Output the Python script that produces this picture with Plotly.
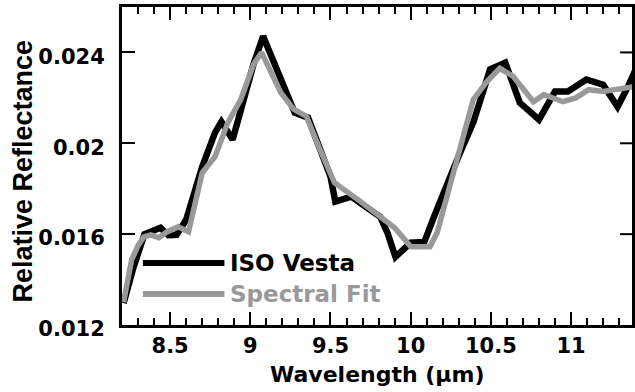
import plotly.graph_objects as go

# ISO Vesta spectrum (wavelength in micrometres, relative reflectance)
vesta_wl = [8.21, 8.27, 8.34, 8.38, 8.44, 8.49, 8.54, 8.60, 8.65, 8.70, 8.78, 8.82,
            8.89, 8.95, 9.02, 9.08, 9.15, 9.235, 9.277, 9.36, 9.43, 9.50, 9.53, 9.63,
            9.72, 9.81, 9.855, 9.905, 10.0, 10.085, 10.15, 10.227, 10.30, 10.39, 10.44,
            10.495, 10.59, 10.68, 10.80, 10.90, 10.98, 11.095, 11.20, 11.29, 11.355, 11.40]
vesta_refl = [0.01296, 0.01450, 0.01600, 0.01610, 0.01628, 0.01595, 0.01597, 0.01663,
              0.01780, 0.01897, 0.02047, 0.02095, 0.02016, 0.02170, 0.02348, 0.02471,
              0.02350, 0.02207, 0.02135, 0.02113, 0.01985, 0.01853, 0.01743, 0.01765,
              0.01720, 0.01676, 0.01606, 0.01500, 0.01562, 0.01566, 0.01685, 0.01826,
              0.01945, 0.02091, 0.02208, 0.02325, 0.02355, 0.02179, 0.02104, 0.02228,
              0.02228, 0.02281, 0.02258, 0.02161, 0.02250, 0.02320]

# Spectral fit
fit_wl = [8.21, 8.26, 8.30, 8.336, 8.38, 8.43, 8.48, 8.55, 8.615, 8.70, 8.78, 8.86,
          8.94, 9.02, 9.07, 9.19, 9.27, 9.35, 9.43, 9.525, 9.69, 9.81, 9.90, 10.0,
          10.12, 10.165, 10.29, 10.39, 10.475, 10.556, 10.64, 10.766, 10.83, 10.95,
          11.03, 11.11, 11.20, 11.28, 11.36, 11.40]
fit_refl = [0.01300, 0.01487, 0.01550, 0.01588, 0.01597, 0.01584, 0.01610, 0.01632,
            0.01610, 0.01870, 0.01941, 0.02091, 0.02192, 0.02347, 0.02400, 0.02223,
            0.02150, 0.02118, 0.01980, 0.01826, 0.01742, 0.01676, 0.01628, 0.01545,
            0.01545, 0.01606, 0.01928, 0.02192, 0.02272, 0.02330, 0.02294, 0.02183,
            0.02214, 0.02183, 0.02200, 0.02236, 0.02228, 0.02236, 0.02250, 0.02250]

series_names = ["ISO Vesta", "Spectral Fit"]
series_colors = ["#000000", "#999999"]

x_range = [8.2, 11.38]
y_range = [0.012, 0.026]
y_ticks = [0.012, 0.016, 0.02, 0.024]

W, H = 635, 392
ML, MR, MT, MB = 122, 0, 7, 67
PW, PH = W - ML - MR, H - MT - MB


def px(x):
    return (x - ML) / PW


def py(y):
    return (H - MB - y) / PH


fig = go.Figure()
fig.add_trace(go.Scatter(x=vesta_wl, y=vesta_refl, mode="lines", name=series_names[0],
                         line=dict(color=series_colors[0], width=6.5),
                         showlegend=False))
fig.add_trace(go.Scatter(x=fit_wl, y=fit_refl, mode="lines", name=series_names[1],
                         line=dict(color=series_colors[1], width=5.5),
                         showlegend=False))

tick_font = dict(family="DejaVu Sans", size=21, color="black", weight="bold")

fig.update_xaxes(range=x_range, showgrid=False, zeroline=False,
                 showline=True, linecolor="black", linewidth=3, mirror="ticks",
                 ticks="inside", ticklen=13, tickwidth=2, tickcolor="black",
                 tick0=8.5, dtick=0.5, tickfont=tick_font,
                 minor=dict(ticks="inside", ticklen=7, tickwidth=2,
                            tickcolor="black", dtick=0.1, tick0=8.2, showgrid=False))
fig.update_yaxes(range=y_range, showgrid=False, zeroline=False,
                 showline=True, linecolor="black", linewidth=3, mirror=True,
                 ticks="inside", ticklen=13, tickwidth=2, tickcolor="black",
                 tickvals=y_ticks, ticktext=[str(v) for v in y_ticks],
                 tickfont=tick_font, ticklabelstandoff=10, ticklabelshift=4)

# Tick marks along the right-hand frame, at the same values as the left axis
for v in y_ticks[1:]:
    fig.add_shape(type="line", xref="paper", yref="y", layer="above",
                  x0=1 - 12 / PW, x1=1, y0=v, y1=v,
                  line=dict(color="black", width=2))

# Legend: sample lines and labels
legend_rows = [263, 294]
for name, color, row in zip(series_names, series_colors, legend_rows):
    fig.add_shape(type="line", xref="paper", yref="paper",
                  x0=px(143), x1=px(225), y0=py(row), y1=py(row),
                  line=dict(color=color, width=6))
    fig.add_annotation(xref="paper", yref="paper", x=px(229), y=py(row),
                       xanchor="left", yanchor="middle", showarrow=False,
                       text=name,
                       font=dict(family="DejaVu Sans", size=23, color=color,
                                 weight="bold"))

# Axis titles
fig.add_annotation(xref="paper", yref="paper", x=px(379), y=py(374),
                   xanchor="center", yanchor="middle", showarrow=False,
                   text="Wavelength (\u03bcm)",
                   font=dict(family="DejaVu Sans", size=22, color="black",
                             weight="bold"))
fig.add_annotation(xref="paper", yref="paper", x=px(22), y=py(171),
                   xanchor="center", yanchor="middle", showarrow=False,
                   textangle=-90, text="Relative Reflectance",
                   font=dict(family="Liberation Sans", size=27, color="black",
                             weight="bold"))

fig.update_layout(width=W, height=H,
                  margin=dict(l=ML, r=MR, t=MT, b=MB, pad=0),
                  paper_bgcolor="white", plot_bgcolor="white")

fig.write_html("out.html")
